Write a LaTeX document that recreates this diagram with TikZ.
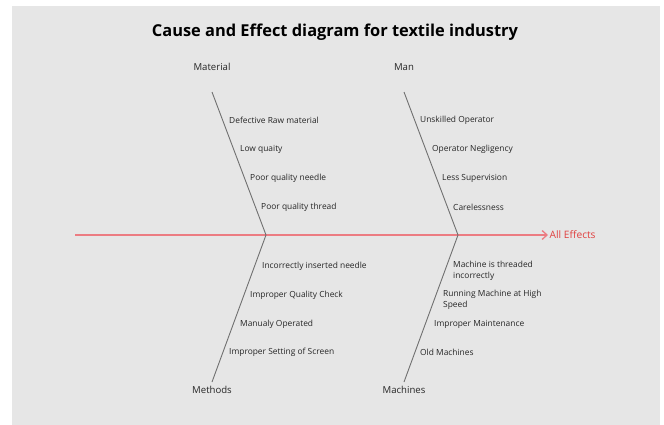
\documentclass[tikz,border=0pt]{standalone}
\usepackage{fontspec}
\setmainfont{Open Sans}
\usepackage{xcolor}
\usetikzlibrary{arrows.meta,positioning}
\definecolor{panel}{HTML}{E6E6E6}
\definecolor{spinered}{HTML}{EC7C82}
\definecolor{effectred}{HTML}{E0403F}
\definecolor{bone}{HTML}{707070}

\begin{document}
\begin{tikzpicture}[x=1pt, y=-1pt,
    cause/.style={anchor=west, inner sep=0pt, font=\fontsize{8.4}{10.5}\selectfont, text=black!85, align=left},
    cat/.style={inner sep=0pt, font=\fontsize{9.6}{11}\selectfont, text=black!85},
    bone/.style={draw=bone, line width=0.9pt},
    arrow/.style={-{Straight Barb[length=5pt,width=9pt]}, draw=spinered, line width=1.3pt}
]
    \useasboundingbox (0,0) rectangle (664,425);
    \fill[panel] (12,6) rectangle (660,425);

    % Title
    \node[font=\fontsize{16.4}{19}\selectfont\bfseries] (title) at (335,32) {Cause and Effect diagram for textile industry};

    % Spine
    \coordinate (tail) at (75,235);
    \coordinate (head) at (548,235);
    \coordinate (j1) at (266,235);
    \coordinate (j2) at (458,235);
    \draw[arrow] (tail) -- (head);
    \node[anchor=west, inner sep=1.5pt, font=\fontsize{10.2}{12}\selectfont, text=effectred] (effect) at (head) {All Effects};

    % Categories
    \node[cat] (material) at (212,67) {Material};
    \node[cat] (man) at (404,67) {Man};
    \node[cat] (methods) at (212,390) {Methods};
    \node[cat] (machines) at (404,390) {Machines};

    \coordinate (m1) at (212,92);
    \coordinate (m2) at (404,92);
    \coordinate (m3) at (212,382);
    \coordinate (m4) at (404,382);

    % Bones
    \draw[bone] (m1) -- (j1);
    \draw[bone] (m2) -- (j2);
    \draw[bone] (m3) -- (j1);
    \draw[bone] (m4) -- (j2);

    % Material causes
    \node[cause] (c11) at (229,120) {Defective Raw material};
    \node[cause] (c12) at (240,149) {Low quaity};
    \node[cause] (c13) at (250,178) {Poor quality needle};
    \node[cause] (c14) at (261,207) {Poor quality thread};

    % Man causes
    \node[cause] (c21) at (420,120) {Unskilled Operator};
    \node[cause] (c22) at (432,149) {Operator Negligency};
    \node[cause] (c23) at (442,178) {Less Supervision};
    \node[cause] (c24) at (453,207) {Carelessness};

    % Methods causes
    \node[cause] (c31) at (262,266) {Incorrectly inserted needle};
    \node[cause] (c32) at (250,295) {Improper Quality Check};
    \node[cause] (c33) at (240,324) {Manualy Operated};
    \node[cause] (c34) at (229,352) {Improper Setting of Screen};

    % Machines causes
    \node[cause] (c41) at (453,271) {Machine is threaded\\incorrectly};
    \node[cause] (c42) at (443,300) {Running Machine at High\\Speed};
    \node[cause] (c43) at (434,324) {Improper Maintenance};
    \node[cause] (c44) at (420,352) {Old Machines};
\end{tikzpicture}
\end{document}
